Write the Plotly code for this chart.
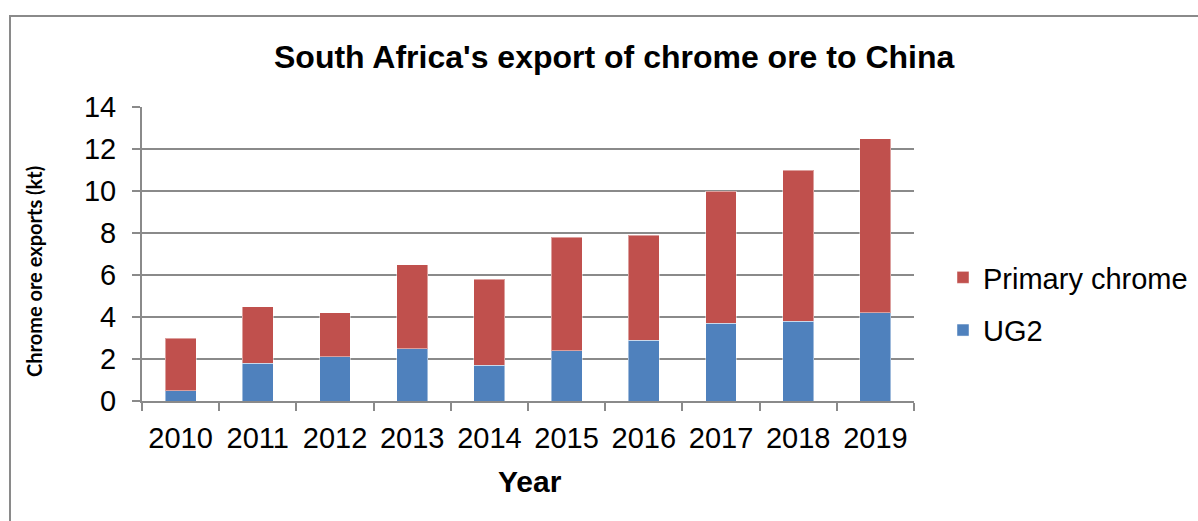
import plotly.graph_objects as go

# South Africa chrome ore exports to China, kt
years = ["2010", "2011", "2012", "2013", "2014", "2015", "2016", "2017", "2018", "2019"]
ug2 = [0.5, 1.8, 2.1, 2.5, 1.7, 2.4, 2.9, 3.7, 3.8, 4.2]
total = [3.0, 4.5, 4.2, 6.5, 5.8, 7.8, 7.9, 10.0, 11.0, 12.5]
primary_chrome = [round(t - u, 2) for t, u in zip(total, ug2)]
y_ticks = [0, 2, 4, 6, 8, 10, 12, 14]

W, H = 1198, 521
ML, MR, MT, MB = 142, 284, 107, 120
PW, PH = W - ML - MR, H - MT - MB


def px_x(x):
    return (x - ML) / PW


def px_y(y):
    return (H - MB - y) / PH


GRID = "#8a8a8a"
FONT = "Liberation Sans, Arial, sans-serif"

fig = go.Figure()
fig.add_trace(go.Bar(
    x=years, y=ug2, name="UG2", legendgroup="b", legendrank=2,
    marker=dict(color="#4F81BD", line=dict(color="rgba(255,255,255,0.45)", width=1)),
))
fig.add_trace(go.Bar(
    x=years, y=primary_chrome, name="Primary chrome", legendgroup="a", legendrank=1,
    marker=dict(color="#C0504D", line=dict(color="rgba(255,255,255,0.45)", width=1)),
))

fig.update_layout(
    width=W, height=H,
    barmode="stack", bargap=0.6,
    margin=dict(l=ML, r=MR, t=MT, b=MB, autoexpand=False),
    paper_bgcolor="white", plot_bgcolor="white",
    font=dict(family=FONT, size=29, color="black"),
    showlegend=True,
    legend=dict(
        x=px_x(943), y=px_y(252), xanchor="left", yanchor="top",
        traceorder="grouped", tracegroupgap=12,
        font=dict(size=29), itemwidth=30, bgcolor="rgba(0,0,0,0)",
    ),
    xaxis=dict(
        type="category", showgrid=False,
        showline=True, linecolor=GRID, linewidth=2,
        ticks="outside", tickson="boundaries", ticklen=8, tickcolor=GRID, tickwidth=2,
        tickfont=dict(size=29), ticklabelstandoff=10,
    ),
    yaxis=dict(
        range=[0, 14], tickvals=y_ticks,
        showgrid=True, gridcolor=GRID, gridwidth=2,
        showline=True, linecolor=GRID, linewidth=2,
        ticks="outside", ticklen=8, tickcolor=GRID, tickwidth=2,
        tickfont=dict(size=29), ticklabelstandoff=10,
        zeroline=False,
    ),
    annotations=[
        dict(text="<b>South Africa's export of chrome ore to China</b>",
             xref="paper", yref="paper", x=px_x(614), y=px_y(57),
             xanchor="center", yanchor="middle", showarrow=False,
             font=dict(size=32, family=FONT)),
        dict(text="<b>Chrome ore exports (kt)</b>",
             xref="paper", yref="paper", x=px_x(34), y=px_y(272),
             xanchor="center", yanchor="middle", showarrow=False, textangle=-90,
             font=dict(size=20, family="Lato, Open Sans, sans-serif")),
        dict(text="<b>Year</b>",
             xref="paper", yref="paper", x=px_x(530), y=px_y(481),
             xanchor="center", yanchor="middle", showarrow=False,
             font=dict(size=30, family=FONT)),
    ],
    shapes=[
        dict(type="rect", xref="paper", yref="paper",
             x0=px_x(10), y0=px_y(540), x1=px_x(1230), y1=px_y(16),
             line=dict(color="#8a8a8a", width=2), fillcolor="rgba(0,0,0,0)", layer="below"),
    ],
)

fig.write_html("out.html")
